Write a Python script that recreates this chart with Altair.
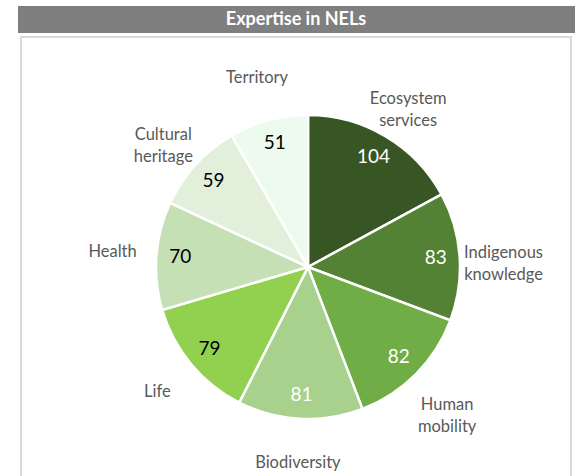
import altair as alt
import pandas as pd

categories = ["Ecosystem services", "Indigenous knowledge", "Human mobility", "Biodiversity",
              "Life", "Health", "Cultural heritage", "Territory"]
values = [104, 83, 82, 81, 79, 70, 59, 51]
label_lines = [["Ecosystem", "services"], ["Indigenous", "knowledge"], ["Human", "mobility"],
               ["Biodiversity"], ["Life"], ["Health"], ["Cultural", "heritage"], ["Territory"]]
slice_colors = ["#375623", "#548235", "#70ad47", "#a9d18e", "#92d050", "#c5e0b4", "#e2efda", "#edfbef"]
value_text_colors = ["#ffffff", "#ffffff", "#ffffff", "#ffffff", "#000000", "#000000", "#000000", "#000000"]
title_text = "Expertise in NELs"

df = pd.DataFrame({
    "category": categories,
    "value": values,
    "order": list(range(len(categories))),
    "label": label_lines,
})

FONT = "Lato"
cx, cy, R = 308, 267, 152

base = alt.Chart(df).encode(
    theta=alt.Theta("value:Q", stack=True),
    order=alt.Order("order:Q", sort="ascending"),
    x=alt.value(cx),
    y=alt.value(cy),
)

pie = base.mark_arc(outerRadius=R, stroke="white", strokeWidth=2.5).encode(
    color=alt.Color("category:N", scale=alt.Scale(domain=categories, range=slice_colors), legend=None),
)

values_text = base.mark_text(radius=128, font=FONT, fontSize=19).encode(
    text=alt.Text("value:Q"),
    color=alt.Color("category:N", scale=alt.Scale(domain=categories, range=value_text_colors), legend=None),
)

names_text = base.mark_text(radius=196, font=FONT, fontSize=16.5, color="#595959",
                            lineHeight=22, baseline="middle").encode(
    text=alt.Text("label"),
    detail="category:N",
)

tdf = pd.DataFrame({"t": [title_text]})
title_bar = alt.Chart(tdf).mark_rect(color="#7f7f7f").encode(
    x=alt.value(18), x2=alt.value(575), y=alt.value(6), y2=alt.value(33)
)
title = alt.Chart(tdf).mark_text(font=FONT, fontSize=18, fontWeight="bold", color="white",
                                  baseline="middle").encode(
    text="t:N", x=alt.value(296), y=alt.value(20)
)
border = alt.Chart(tdf).mark_rect(filled=False, stroke="#d9d9d9", strokeWidth=2).encode(
    x=alt.value(21), x2=alt.value(571), y=alt.value(37), y2=alt.value(490)
)

chart = alt.layer(border, title_bar, title, pie, values_text, names_text).resolve_scale(
    color="independent"
).properties(
    width=580, height=476, autosize=alt.AutoSizeParams(type="none"), padding=0,
    background="white",
).configure_view(stroke=None)

chart.save("out.html", embed_options={"renderer": "svg", "actions": False})
